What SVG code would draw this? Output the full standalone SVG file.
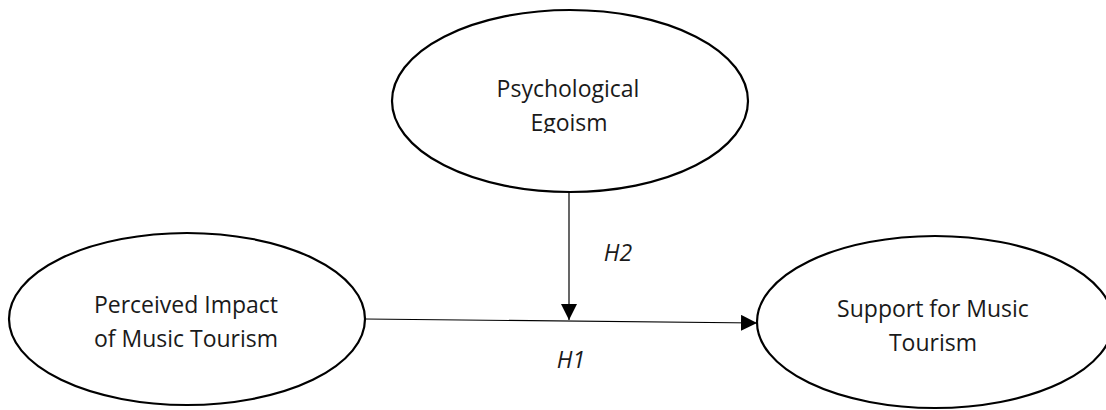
<svg xmlns="http://www.w3.org/2000/svg" width="1106" height="410" viewBox="0 0 1106 410">
<style>
.node ellipse{fill:#fff;stroke:#000;stroke-width:2.2}
.lbl{font-family:"Open Sans","Noto Sans",sans-serif;font-size:23px;fill:#1a1a1a;text-anchor:middle}
.hyp{font-family:"Open Sans","Noto Sans",sans-serif;font-size:23px;font-style:italic;fill:#1a1a1a;text-anchor:middle}
.conn line{stroke:#000;stroke-width:1.2}
</style>
<defs>
<marker id="ah" viewBox="0 0 16 16" refX="16" refY="8" markerWidth="16" markerHeight="16" markerUnits="userSpaceOnUse" orient="auto">
<path d="M0,0 L16,8 L0,16 Z" fill="#000"/>
</marker>
<clipPath id="clipE"><rect x="380" y="0" width="380" height="133"/></clipPath>
</defs>
<g id="node-egoism" class="node">
<ellipse cx="570" cy="101" rx="178" ry="91"/>
<g clip-path="url(#clipE)">
<text class="lbl" x="568" y="97">Psychological</text>
<text class="lbl" x="569" y="131">Egoism</text>
</g>
</g>
<g id="node-impact" class="node">
<ellipse cx="187" cy="319" rx="178" ry="86"/>
<text class="lbl" x="186" y="313">Perceived Impact</text>
<text class="lbl" x="186" y="347">of Music Tourism</text>
</g>
<g id="node-support" class="node">
<ellipse cx="935" cy="322" rx="178" ry="86"/>
<text class="lbl" x="933" y="317">Support for Music</text>
<text class="lbl" x="933" y="351">Tourism</text>
</g>
<g id="connectors" class="conn">
<line x1="365" y1="319" x2="757" y2="323" marker-end="url(#ah)"/>
<line x1="569" y1="192" x2="569" y2="320" marker-end="url(#ah)"/>
<text class="hyp" x="618" y="261">H2</text>
<text class="hyp" x="571" y="368">H1</text>
</g>
</svg>
